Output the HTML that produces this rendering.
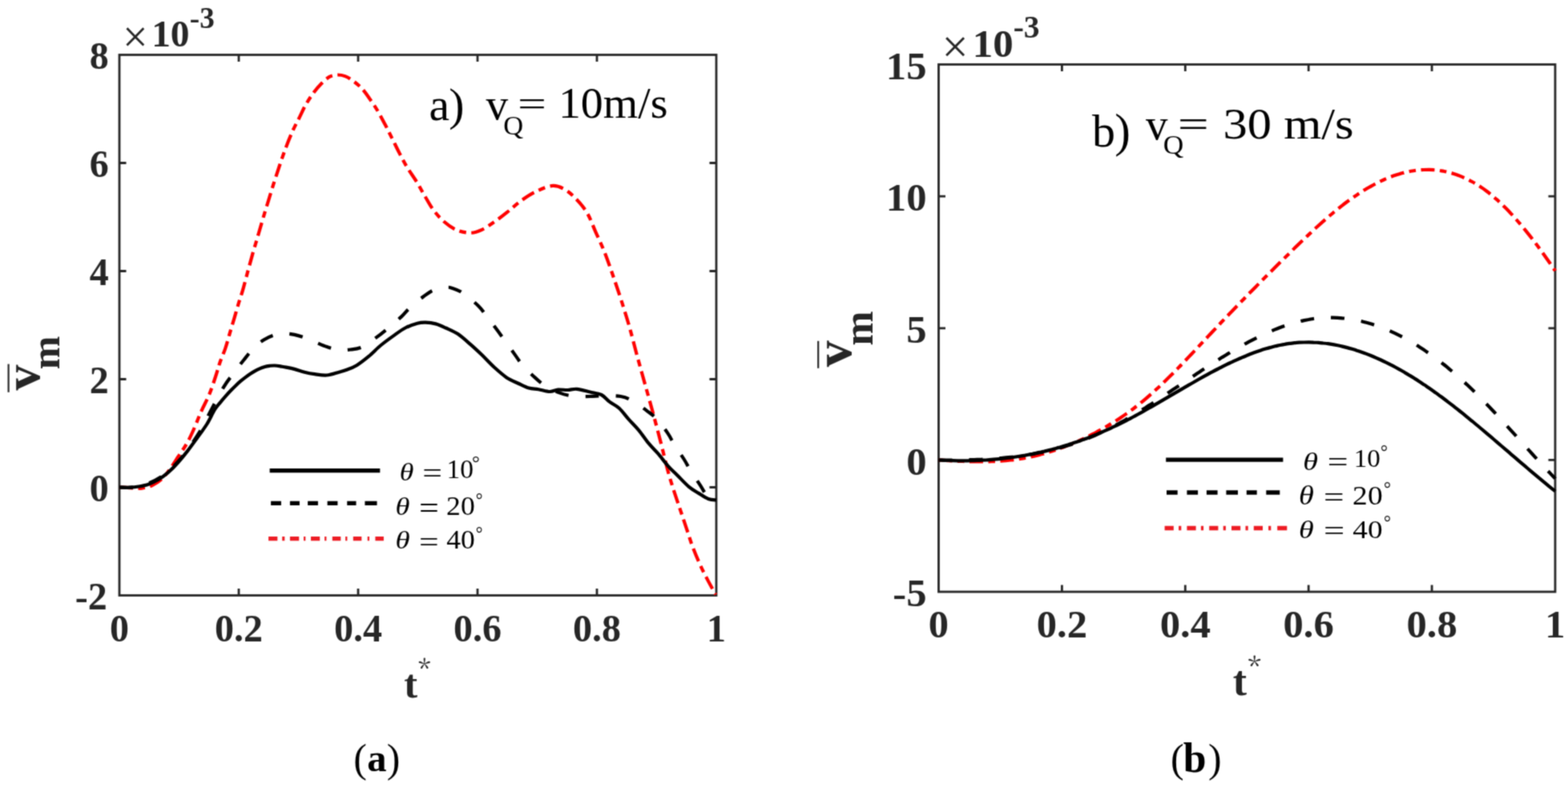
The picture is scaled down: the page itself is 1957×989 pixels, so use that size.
<!DOCTYPE html>
<html><head><meta charset="utf-8"><title>Figure</title>
<style>html,body{margin:0;padding:0;background:#fff;width:1957px;height:989px;overflow:hidden}svg{display:block}</style>
</head><body>
<svg width="1957" height="989" viewBox="0 0 1957 989">
<defs><filter id="soft" x="0" y="0" width="1957" height="989" filterUnits="userSpaceOnUse" color-interpolation-filters="sRGB"><feConvolveMatrix order="3" kernelMatrix="0.0400 0.1200 0.0400 0.1200 0.3600 0.1200 0.0400 0.1200 0.0400" edgeMode="duplicate"/></filter></defs>
<g filter="url(#soft)">
<rect width="1957" height="989" fill="#fff"/>
<rect x="149.0" y="68.5" width="745.0" height="675.0" fill="none" stroke="#262626" stroke-width="2.8"/>
<path d="M298.0,743.5V735.0M298.0,68.5V77.0M447.0,743.5V735.0M447.0,68.5V77.0M596.0,743.5V735.0M596.0,68.5V77.0M745.0,743.5V735.0M745.0,68.5V77.0M149.0,608.5H157.5M894.0,608.5H885.5M149.0,473.5H157.5M894.0,473.5H885.5M149.0,338.5H157.5M894.0,338.5H885.5M149.0,203.5H157.5M894.0,203.5H885.5" stroke="#262626" stroke-width="2.8" fill="none"/>
<path d="M149.0,608.5 C151.7,608.6 160.3,609.1 165.0,609.3 C169.7,609.5 173.1,610.1 177.3,609.6 C181.5,609.1 185.9,607.9 190.0,606.0 C194.1,604.1 197.9,601.8 201.6,598.5 C205.3,595.2 208.5,590.8 212.0,586.0 C215.5,581.2 219.2,575.2 222.6,570.0 C226.0,564.8 229.5,560.1 232.6,554.8 C235.7,549.5 237.9,544.8 241.0,538.0 C244.1,531.2 247.6,521.8 251.0,514.1 C254.4,506.4 258.4,499.4 261.5,491.8 C264.6,484.2 267.4,475.1 269.6,468.5 C271.8,461.9 272.8,457.6 274.7,452.0 C276.6,446.4 279.3,440.8 281.3,434.8 C283.3,428.8 285.0,422.4 286.8,416.1 C288.6,409.9 290.6,403.3 292.4,397.3 C294.2,391.3 295.6,385.9 297.4,380.1 C299.1,374.3 301.0,369.2 302.9,362.6 C304.8,356.0 306.9,347.8 308.9,340.4 C310.9,333.0 313.0,325.3 315.0,318.1 C317.0,310.9 319.1,304.3 321.1,297.4 C323.1,290.5 325.1,283.5 327.1,276.7 C329.1,269.9 330.8,264.2 333.2,256.5 C335.6,248.8 338.6,238.8 341.3,230.2 C344.0,221.6 346.8,213.1 349.5,205.0 C352.2,196.9 355.1,188.8 357.8,181.7 C360.5,174.6 363.2,168.1 365.9,162.2 C368.6,156.3 371.3,151.5 374.0,146.1 C376.7,140.7 379.1,135.0 382.1,129.9 C385.1,124.8 388.6,119.6 391.8,115.3 C395.0,111.0 398.3,107.2 401.5,104.0 C404.7,100.8 408.0,97.7 411.2,95.9 C414.4,94.2 417.7,93.6 420.9,93.5 C424.1,93.4 427.4,93.9 430.6,95.1 C433.8,96.3 436.8,98.1 440.3,100.7 C443.8,103.3 448.2,106.7 451.7,110.5 C455.2,114.3 458.2,118.8 461.4,123.4 C464.6,128.0 467.9,132.6 471.1,138.0 C474.3,143.4 477.8,150.2 480.8,155.8 C483.8,161.5 485.9,166.0 488.9,171.9 C491.9,177.8 495.4,185.2 498.6,191.4 C501.8,197.6 504.7,203.3 508.3,209.2 C511.9,215.1 516.3,221.0 520.0,227.0 C523.7,233.0 527.0,239.3 530.5,245.2 C534.0,251.1 537.0,257.0 541.0,262.3 C545.0,267.6 549.4,272.6 554.2,276.8 C559.0,281.0 564.5,285.0 570.0,287.3 C575.5,289.6 582.2,290.9 587.5,290.8 C592.8,290.7 596.5,289.1 601.5,286.8 C606.5,284.5 612.0,280.5 617.3,276.8 C622.6,273.1 627.9,269.1 633.1,264.9 C638.4,260.7 643.1,256.0 648.8,251.8 C654.5,247.7 660.7,243.3 667.3,240.0 C673.9,236.7 682.2,232.8 688.3,232.1 C694.4,231.4 698.9,233.2 704.1,236.0 C709.4,238.8 715.0,244.1 719.8,249.2 C724.6,254.2 729.0,259.5 733.0,266.3 C737.0,273.1 740.0,282.0 743.5,289.9 C747.0,297.8 750.5,304.8 754.0,313.6 C757.5,322.4 761.0,332.4 764.5,342.5 C768.0,352.6 771.6,363.2 775.1,374.1 C778.6,385.1 782.1,395.9 785.6,408.2 C789.1,420.5 792.8,435.7 796.1,447.7 C799.4,459.7 802.0,468.9 805.2,480.4 C808.4,491.9 811.9,504.2 815.3,516.8 C818.7,529.4 822.5,544.0 825.6,556.0 C828.7,568.0 831.2,579.2 833.8,588.8 C836.4,598.4 838.8,605.8 841.4,613.8 C844.0,621.8 846.5,629.1 849.1,636.8 C851.7,644.5 854.2,652.1 856.8,659.8 C859.4,667.5 861.6,675.2 864.5,682.9 C867.4,690.6 870.9,698.9 874.1,705.9 C877.3,712.9 880.5,719.0 883.7,725.1 C886.9,731.2 891.7,739.5 893.3,742.4" fill="none" stroke="#ff0000" stroke-width="4.2" stroke-dasharray="17 6.5 8.5 6.5" stroke-linejoin="round"/>
<path d="M149.0,608.5 C151.7,608.5 159.2,609.5 165.3,608.7 C171.4,607.9 179.2,606.0 185.5,603.5 C191.8,601.0 198.1,597.4 203.2,594.0 C208.3,590.6 211.8,587.2 216.0,583.0 C220.2,578.8 224.3,574.2 228.5,569.0 C232.7,563.8 236.9,558.0 241.0,552.0 C245.1,546.0 249.5,539.2 253.0,533.0 C256.5,526.8 257.7,523.2 262.0,515.0 C266.3,506.8 274.1,491.8 279.0,483.6 C283.9,475.4 287.4,471.6 291.6,465.9 C295.8,460.2 300.1,454.8 304.3,449.5 C308.5,444.2 312.7,438.5 316.9,434.3 C321.1,430.1 325.3,426.9 329.5,424.2 C333.7,421.5 338.0,419.7 342.2,418.4 C346.4,417.1 350.6,416.7 354.8,416.6 C359.0,416.5 363.2,417.0 367.4,417.9 C371.6,418.8 375.9,420.2 380.1,421.7 C384.3,423.2 388.1,424.9 392.7,426.8 C397.3,428.7 402.8,431.4 407.9,433.1 C412.9,434.8 418.1,436.3 423.0,436.9 C427.9,437.5 432.7,437.1 437.6,436.5 C442.6,435.9 447.2,435.6 452.7,433.0 C458.2,430.4 465.3,424.6 470.4,420.9 C475.5,417.2 478.0,415.0 483.1,410.8 C488.2,406.6 496.2,399.9 500.8,395.6 C505.4,391.3 506.3,389.2 510.9,385.0 C515.5,380.8 523.5,374.1 528.6,370.3 C533.7,366.5 536.6,364.1 541.2,362.2 C545.8,360.3 552.6,359.4 556.4,359.0 C560.2,358.6 560.6,358.6 564.0,359.7 C567.4,360.8 571.1,361.6 576.6,365.3 C582.1,369.0 591.8,376.9 596.8,381.7 C601.8,386.5 603.1,389.4 606.9,394.3 C610.7,399.2 615.7,405.7 619.5,410.8 C623.3,415.9 625.8,419.4 629.6,424.7 C633.4,430.0 638.5,437.1 642.3,442.4 C646.1,447.6 648.2,451.4 652.4,456.2 C656.6,461.0 663.0,467.2 667.6,471.4 C672.2,475.6 675.2,478.3 680.2,481.5 C685.2,484.7 692.0,488.2 697.9,490.4 C703.8,492.6 709.2,493.9 715.6,494.7 C722.0,495.5 730.2,495.1 736.4,495.0 C742.6,494.9 746.2,494.2 752.6,494.2 C759.0,494.2 768.7,494.0 774.8,495.0 C780.9,496.0 783.6,497.3 789.0,500.3 C794.4,503.3 802.2,509.0 807.2,512.8 C812.2,516.6 814.9,518.2 819.3,522.9 C823.7,527.6 829.8,535.7 833.5,541.1 C837.2,546.5 838.2,549.9 841.6,555.3 C845.0,560.7 850.3,568.1 853.7,573.5 C857.1,578.9 858.4,582.2 861.8,587.6 C865.2,593.0 870.4,600.4 873.9,605.8 C877.4,611.2 879.6,616.3 883.0,620.0 C886.4,623.7 892.2,626.7 894.0,628.0" fill="none" stroke="#000" stroke-width="4.2" stroke-dasharray="17 21" stroke-linejoin="round"/>
<path d="M149.0,608.5 C151.0,608.5 157.1,608.9 161.2,608.7 C165.2,608.5 169.3,608.2 173.3,607.5 C177.3,606.8 181.4,606.1 185.4,604.7 C189.4,603.3 193.4,601.4 197.5,599.0 C201.6,596.6 205.6,593.6 209.7,590.1 C213.8,586.6 217.8,582.5 221.8,578.0 C225.8,573.5 229.9,568.6 233.9,563.4 C237.9,558.2 241.9,552.6 246.0,547.0 C250.1,541.4 254.6,535.4 258.3,529.5 C262.0,523.6 265.2,516.0 268.0,511.5 C270.8,507.0 272.5,505.5 274.9,502.6 C277.2,499.7 279.9,496.6 282.1,494.1 C284.3,491.6 286.2,489.6 288.2,487.5 C290.2,485.4 292.3,483.3 294.3,481.4 C296.3,479.5 298.3,477.6 300.3,475.9 C302.3,474.2 304.4,472.6 306.4,471.1 C308.4,469.6 310.5,468.1 312.5,466.8 C314.5,465.5 316.5,464.3 318.5,463.2 C320.5,462.1 322.6,461.1 324.6,460.2 C326.6,459.3 328.6,458.6 330.6,458.0 C332.6,457.4 334.7,457.1 336.7,456.8 C338.7,456.6 340.6,456.4 342.8,456.5 C345.0,456.6 347.6,457.0 350.0,457.4 C352.4,457.8 354.1,458.0 357.0,458.6 C359.9,459.2 363.5,459.9 367.4,460.9 C371.2,461.9 375.9,463.6 380.1,464.7 C384.3,465.8 388.1,466.6 392.7,467.2 C397.3,467.8 402.8,468.9 407.9,468.5 C412.9,468.1 419.0,465.8 423.0,464.7 C427.0,463.6 428.3,463.4 432.0,462.0 C435.7,460.6 440.5,459.1 445.2,456.2 C449.9,453.3 455.2,449.1 460.3,444.9 C465.4,440.7 470.4,435.2 475.5,431.0 C480.6,426.8 485.6,423.2 490.7,419.6 C495.8,416.0 500.8,412.1 505.8,409.5 C510.9,406.9 516.8,404.8 521.0,403.7 C525.2,402.6 527.3,402.6 531.1,402.7 C534.9,402.8 539.5,403.3 543.7,404.4 C547.9,405.5 551.8,407.4 556.4,409.5 C561.0,411.6 566.5,413.7 571.5,417.1 C576.5,420.5 581.7,425.3 586.7,429.7 C591.8,434.1 596.8,438.8 601.8,443.6 C606.8,448.5 611.9,454.2 617.0,458.8 C622.1,463.4 627.2,468.0 632.2,471.4 C637.2,474.8 642.7,476.8 647.3,479.0 C651.9,481.2 655.9,483.4 660.0,484.6 C664.1,485.8 667.7,485.5 672.1,486.2 C676.5,486.9 682.2,488.9 686.3,489.0 C690.3,489.1 692.7,486.9 696.4,486.6 C700.1,486.3 704.6,487.1 708.5,487.0 C712.4,486.9 715.4,485.4 720.0,485.8 C724.6,486.2 731.3,488.3 736.4,489.5 C741.5,490.7 746.5,491.0 750.6,493.0 C754.7,495.0 757.0,498.9 760.7,501.7 C764.4,504.5 768.8,506.1 772.8,509.8 C776.8,513.5 780.8,519.4 784.9,523.9 C789.0,528.4 793.0,532.2 797.1,537.1 C801.2,542.0 805.2,548.3 809.2,553.2 C813.2,558.1 817.2,561.7 821.3,566.4 C825.3,571.1 829.5,577.0 833.5,581.6 C837.5,586.2 841.2,589.3 845.6,593.7 C850.0,598.1 855.4,604.1 859.8,607.8 C864.2,611.5 867.9,613.4 871.9,615.9 C875.9,618.4 880.3,621.6 884.0,623.0 C887.7,624.4 892.4,624.2 894.1,624.4" fill="none" stroke="#000" stroke-width="4.2" stroke-linejoin="round"/>
<text x="133.80" y="761.40" text-anchor="end" style="font-family:'Liberation Serif',serif;font-size:48.00px;font-weight:bold" fill="#262626">-2</text>
<text x="135.80" y="626.40" text-anchor="end" style="font-family:'Liberation Serif',serif;font-size:48.00px;font-weight:bold" fill="#262626">0</text>
<text x="135.80" y="491.40" text-anchor="end" style="font-family:'Liberation Serif',serif;font-size:48.00px;font-weight:bold" fill="#262626">2</text>
<text x="135.80" y="356.40" text-anchor="end" style="font-family:'Liberation Serif',serif;font-size:48.00px;font-weight:bold" fill="#262626">4</text>
<text x="135.80" y="221.40" text-anchor="end" style="font-family:'Liberation Serif',serif;font-size:48.00px;font-weight:bold" fill="#262626">6</text>
<text x="135.80" y="86.40" text-anchor="end" style="font-family:'Liberation Serif',serif;font-size:48.00px;font-weight:bold" fill="#262626">8</text>
<text x="149.00" y="800.80" text-anchor="middle" style="font-family:'Liberation Serif',serif;font-size:48.00px;font-weight:bold" fill="#262626">0</text>
<text x="298.00" y="800.80" text-anchor="middle" style="font-family:'Liberation Serif',serif;font-size:48.00px;font-weight:bold" fill="#262626">0.2</text>
<text x="447.00" y="800.80" text-anchor="middle" style="font-family:'Liberation Serif',serif;font-size:48.00px;font-weight:bold" fill="#262626">0.4</text>
<text x="596.00" y="800.80" text-anchor="middle" style="font-family:'Liberation Serif',serif;font-size:48.00px;font-weight:bold" fill="#262626">0.6</text>
<text x="745.00" y="800.80" text-anchor="middle" style="font-family:'Liberation Serif',serif;font-size:48.00px;font-weight:bold" fill="#262626">0.8</text>
<text x="894.00" y="800.80" text-anchor="middle" style="font-family:'Liberation Serif',serif;font-size:48.00px;font-weight:bold" fill="#262626">1</text>
<text x="152.95" y="65.45" style="font-family:'Liberation Serif',serif;font-size:56.05px;font-weight:normal;font-style:normal" fill="#262626">&#215;</text>
<text x="189.16" y="58.46" style="font-family:'Liberation Serif',serif;font-size:47.41px;font-weight:bold;font-style:normal" fill="#262626">10</text>
<text x="236.87" y="34.55" style="font-family:'Liberation Serif',serif;font-size:37.17px;font-weight:bold;font-style:normal" fill="#262626">-3</text>
<text x="504.28" y="871.02" style="font-family:'Liberation Serif',serif;font-size:50.43px;font-weight:bold;font-style:normal" fill="#262626">t</text>
<text x="521.93" y="848.26" style="font-family:'Noto Serif CJK SC',serif;font-size:32.38px;font-weight:normal;font-style:normal" fill="#262626">*</text>
<path d="M10.6,454.6V489.8" stroke="#262626" stroke-width="2.2"/>
<text x="0.0" y="0.0" style="font-family:'Liberation Serif','Times New Roman',serif;font-size:64.0px;font-weight:bold;font-style:normal" text-anchor="start" fill="#262626" transform="translate(49,487.5) rotate(-90)">v</text>
<text x="0.0" y="0.0" style="font-family:'Liberation Serif','Times New Roman',serif;font-size:50.0px;font-weight:bold;font-style:normal" text-anchor="start" fill="#262626" transform="translate(74.4,461.3) rotate(-90)">m</text>
<text x="535.50" y="150.10" style="font-family:'Liberation Serif',serif;font-size:57.50px;font-weight:normal;font-style:normal" fill="#000">a</text>
<text x="560.35" y="149.95" style="font-family:'Liberation Serif',serif;font-size:57.85px;font-weight:normal;font-style:normal" fill="#000">)</text>
<text x="606.57" y="148.79" style="font-family:'Liberation Serif',serif;font-size:55.32px;font-weight:normal;font-style:normal" fill="#000">v</text>
<text x="628.22" y="168.10" style="font-family:'Liberation Serif',serif;font-size:34.42px;font-weight:normal;font-style:normal" fill="#000">Q</text>
<text transform="translate(645.96,143.65) scale(1.462,1)" style="font-family:'Liberation Serif',serif;font-size:43.60px;font-weight:normal;font-style:normal" fill="#000">=</text>
<text x="696.90" y="146.95" style="font-family:'Liberation Serif',serif;font-size:55.85px;font-weight:normal;font-style:normal" fill="#000">10m/s</text>
<path d="M336.6,587.6H474.3" stroke="#000" stroke-width="5.3"/>
<path d="M338.1,628.3H350.9M361.9,628.3H373.9M384.1,628.3H396.9M408.6,628.3H421.4M433.2,628.3H444.5M455.4,628.3H470.5" stroke="#000" stroke-width="5.3" fill="none"/>
<path d="M335.1,672.7H346.3M352.2,672.7H355.3M361.9,672.7H373.2M379.0,672.7H381.3M388.0,672.7H399.2M405.1,672.7H407.4M414.8,672.7H425.3M431.1,672.7H433.4M440.8,672.7H451.3M458.7,672.7H461.0M468.4,672.7H478.9" stroke="#ed1c24" stroke-width="5.3" fill="none"/>
<text transform="translate(498.70,599.99) scale(1.146,1)" style="font-family:'Liberation Serif',serif;font-size:31.27px;font-weight:normal;font-style:italic" fill="#000">&#952;</text>
<text transform="translate(527.36,602.55) scale(1.242,1)" style="font-family:'Liberation Serif',serif;font-size:35.20px;font-weight:normal;font-style:normal" fill="#000">=</text>
<text transform="translate(557.43,596.98) scale(1.018,1)" style="font-family:'Liberation Serif',serif;font-size:32.89px;font-weight:normal;font-style:normal" fill="#000">10</text>
<text transform="translate(588.97,586.00) scale(1.029,1)" style="font-family:'Liberation Serif',serif;font-size:23.80px;font-weight:normal;font-style:normal" fill="#000">&#176;</text>
<text transform="translate(493.56,643.42) scale(1.120,1)" style="font-family:'Liberation Serif',serif;font-size:32.54px;font-weight:normal;font-style:italic" fill="#000">&#952;</text>
<text transform="translate(522.97,646.85) scale(1.171,1)" style="font-family:'Liberation Serif',serif;font-size:37.60px;font-weight:normal;font-style:normal" fill="#000">=</text>
<text transform="translate(557.08,642.96) scale(1.060,1)" style="font-family:'Liberation Serif',serif;font-size:33.63px;font-weight:normal;font-style:normal" fill="#000">20</text>
<text transform="translate(593.80,631.60) scale(0.914,1)" style="font-family:'Liberation Serif',serif;font-size:23.80px;font-weight:normal;font-style:normal" fill="#000">&#176;</text>
<text transform="translate(493.49,685.46) scale(1.141,1)" style="font-family:'Liberation Serif',serif;font-size:32.25px;font-weight:normal;font-style:italic" fill="#000">&#952;</text>
<text transform="translate(522.88,688.85) scale(1.188,1)" style="font-family:'Liberation Serif',serif;font-size:36.80px;font-weight:normal;font-style:normal" fill="#000">=</text>
<text transform="translate(557.18,685.26) scale(1.057,1)" style="font-family:'Liberation Serif',serif;font-size:33.63px;font-weight:normal;font-style:normal" fill="#000">40</text>
<text transform="translate(593.80,673.90) scale(0.914,1)" style="font-family:'Liberation Serif',serif;font-size:23.80px;font-weight:normal;font-style:normal" fill="#000">&#176;</text>
<text x="441.37" y="963.93" style="font-family:'Liberation Serif',serif;font-size:49.92px;font-weight:normal;font-style:normal" fill="#000">(</text>
<text x="458.14" y="963.38" style="font-family:'Liberation Serif',serif;font-size:48.54px;font-weight:bold;font-style:normal" fill="#000">a</text>
<text x="482.82" y="964.18" style="font-family:'Liberation Serif',serif;font-size:49.92px;font-weight:normal;font-style:normal" fill="#000">)</text>
<rect x="1171.5" y="80.5" width="769.5" height="658.5" fill="none" stroke="#262626" stroke-width="2.8"/>
<path d="M1325.4,739.0V730.5M1325.4,80.5V89.0M1479.3,739.0V730.5M1479.3,80.5V89.0M1633.2,739.0V730.5M1633.2,80.5V89.0M1787.1,739.0V730.5M1787.1,80.5V89.0M1171.5,574.4H1180.0M1941.0,574.4H1932.5M1171.5,409.8H1180.0M1941.0,409.8H1932.5M1171.5,245.1H1180.0M1941.0,245.1H1932.5" stroke="#262626" stroke-width="2.8" fill="none"/>
<path d="M1171.5,574.5 C1172.5,574.5 1175.5,574.7 1177.5,574.8 C1179.5,574.9 1181.5,575.1 1183.5,575.2 C1185.5,575.3 1187.5,575.4 1189.5,575.5 C1191.5,575.6 1193.5,575.7 1195.5,575.8 C1197.5,575.8 1199.5,575.9 1201.5,576.0 C1203.5,576.1 1205.5,576.1 1207.5,576.2 C1209.5,576.3 1211.5,576.3 1213.5,576.3 C1215.5,576.4 1217.5,576.4 1219.5,576.4 C1221.5,576.4 1223.5,576.4 1225.5,576.4 C1227.5,576.4 1229.5,576.4 1231.5,576.4 C1233.5,576.3 1235.5,576.3 1237.5,576.2 C1239.5,576.1 1241.5,576.1 1243.5,576.0 C1245.5,575.9 1247.5,575.7 1249.5,575.6 C1251.5,575.5 1253.5,575.3 1255.5,575.1 C1257.5,574.9 1259.5,574.7 1261.5,574.5 C1263.5,574.3 1265.5,574.1 1267.5,573.8 C1269.5,573.5 1271.5,573.2 1273.5,572.9 C1275.5,572.6 1277.5,572.3 1279.5,571.9 C1281.5,571.5 1283.5,571.1 1285.5,570.7 C1287.5,570.3 1289.5,569.9 1291.5,569.4 C1293.5,568.9 1295.5,568.4 1297.5,567.9 C1299.5,567.4 1301.5,566.8 1303.5,566.3 C1305.5,565.7 1307.5,565.1 1309.5,564.5 C1311.5,563.9 1313.5,563.2 1315.5,562.6 C1317.5,561.9 1319.5,561.2 1321.5,560.5 C1323.5,559.8 1325.5,559.0 1327.5,558.3 C1329.5,557.5 1331.5,556.7 1333.5,555.9 C1335.5,555.1 1337.5,554.3 1339.5,553.4 C1341.5,552.6 1343.5,551.7 1345.5,550.8 C1347.5,549.9 1349.5,549.0 1351.5,548.1 C1353.5,547.1 1355.5,546.2 1357.5,545.2 C1359.5,544.2 1361.5,543.2 1363.5,542.2 C1365.5,541.2 1367.5,540.1 1369.5,539.0 C1371.5,538.0 1373.5,536.9 1375.5,535.8 C1377.5,534.6 1379.5,533.5 1381.5,532.3 C1383.5,531.2 1385.5,530.0 1387.5,528.7 C1389.5,527.5 1391.5,526.3 1393.5,525.0 C1395.5,523.7 1397.5,522.4 1399.5,521.0 C1401.5,519.7 1403.5,518.3 1405.5,516.9 C1407.5,515.5 1409.5,514.1 1411.5,512.6 C1413.5,511.1 1415.5,509.6 1417.5,508.0 C1419.5,506.5 1421.5,504.9 1423.5,503.3 C1425.5,501.7 1427.5,500.0 1429.5,498.3 C1431.5,496.6 1433.5,494.9 1435.5,493.1 C1437.5,491.4 1439.5,489.6 1441.5,487.7 C1443.5,485.9 1445.5,484.0 1447.5,482.2 C1449.5,480.3 1451.5,478.4 1453.5,476.4 C1455.5,474.5 1457.5,472.5 1459.5,470.6 C1461.5,468.6 1463.5,466.6 1465.5,464.6 C1467.5,462.5 1469.5,460.5 1471.5,458.4 C1473.5,456.4 1475.5,454.3 1477.5,452.2 C1479.5,450.1 1481.5,448.0 1483.5,445.9 C1485.5,443.8 1487.5,441.7 1489.5,439.6 C1491.5,437.5 1493.5,435.4 1495.5,433.2 C1497.5,431.1 1499.5,429.0 1501.5,426.8 C1503.5,424.7 1505.5,422.6 1507.5,420.4 C1509.5,418.3 1511.5,416.2 1513.5,414.0 C1515.5,411.9 1517.5,409.8 1519.5,407.7 C1521.5,405.6 1523.5,403.4 1525.5,401.3 C1527.5,399.2 1529.5,397.1 1531.5,395.0 C1533.5,392.9 1535.5,390.8 1537.5,388.8 C1539.5,386.7 1541.5,384.6 1543.5,382.5 C1545.5,380.4 1547.5,378.4 1549.5,376.3 C1551.5,374.3 1553.5,372.2 1555.5,370.1 C1557.5,368.1 1559.5,366.0 1561.5,364.0 C1563.5,362.0 1565.5,359.9 1567.5,357.9 C1569.5,355.9 1571.5,353.8 1573.5,351.8 C1575.5,349.8 1577.5,347.8 1579.5,345.8 C1581.5,343.8 1583.5,341.8 1585.5,339.8 C1587.5,337.8 1589.5,335.8 1591.5,333.8 C1593.5,331.8 1595.5,329.8 1597.5,327.8 C1599.5,325.9 1601.5,323.9 1603.5,321.9 C1605.5,319.9 1607.5,318.0 1609.5,316.0 C1611.5,314.1 1613.5,312.1 1615.5,310.1 C1617.5,308.2 1619.5,306.3 1621.5,304.3 C1623.5,302.4 1625.5,300.5 1627.5,298.6 C1629.5,296.6 1631.5,294.7 1633.5,292.9 C1635.5,291.0 1637.5,289.1 1639.5,287.3 C1641.5,285.4 1643.5,283.6 1645.5,281.8 C1647.5,280.0 1649.5,278.2 1651.5,276.4 C1653.5,274.6 1655.5,272.9 1657.5,271.2 C1659.5,269.4 1661.5,267.7 1663.5,266.1 C1665.5,264.4 1667.5,262.8 1669.5,261.1 C1671.5,259.5 1673.5,257.9 1675.5,256.4 C1677.5,254.8 1679.5,253.3 1681.5,251.8 C1683.5,250.4 1685.5,248.9 1687.5,247.5 C1689.5,246.1 1691.5,244.7 1693.5,243.4 C1695.5,242.0 1697.5,240.7 1699.5,239.4 C1701.5,238.2 1703.5,236.9 1705.5,235.7 C1707.5,234.6 1709.5,233.4 1711.5,232.3 C1713.5,231.2 1715.5,230.1 1717.5,229.1 C1719.5,228.1 1721.5,227.1 1723.5,226.1 C1725.5,225.2 1727.5,224.3 1729.5,223.4 C1731.5,222.6 1733.5,221.8 1735.5,221.0 C1737.5,220.2 1739.5,219.5 1741.5,218.8 C1743.5,218.1 1745.5,217.5 1747.5,216.9 C1749.5,216.4 1751.5,215.8 1753.5,215.3 C1755.5,214.9 1757.5,214.4 1759.5,214.0 C1761.5,213.7 1763.5,213.3 1765.5,213.0 C1767.5,212.8 1769.5,212.5 1771.5,212.3 C1773.5,212.2 1775.5,212.0 1777.5,212.0 C1779.5,211.9 1781.5,211.9 1783.5,211.9 C1785.5,211.9 1787.5,212.0 1789.5,212.2 C1791.5,212.3 1793.5,212.5 1795.5,212.8 C1797.5,213.0 1799.5,213.4 1801.5,213.7 C1803.5,214.1 1805.5,214.5 1807.5,215.0 C1809.5,215.5 1811.5,216.1 1813.5,216.7 C1815.5,217.3 1817.5,218.0 1819.5,218.7 C1821.5,219.4 1823.5,220.2 1825.5,221.1 C1827.5,221.9 1829.5,222.9 1831.5,223.8 C1833.5,224.8 1835.5,225.9 1837.5,227.0 C1839.5,228.1 1841.5,229.3 1843.5,230.5 C1845.5,231.8 1847.5,233.1 1849.5,234.4 C1851.5,235.8 1853.5,237.3 1855.5,238.8 C1857.5,240.3 1859.5,241.9 1861.5,243.5 C1863.5,245.2 1865.5,246.9 1867.5,248.7 C1869.5,250.4 1871.5,252.3 1873.5,254.2 C1875.5,256.1 1877.5,258.1 1879.5,260.1 C1881.5,262.1 1883.5,264.2 1885.5,266.4 C1887.5,268.5 1889.5,270.7 1891.5,273.0 C1893.5,275.2 1895.5,277.5 1897.5,279.9 C1899.5,282.2 1901.5,284.7 1903.5,287.1 C1905.5,289.6 1907.5,292.1 1909.5,294.6 C1911.5,297.2 1913.5,299.8 1915.5,302.4 C1917.5,305.1 1919.5,307.7 1921.5,310.5 C1923.5,313.2 1925.5,315.9 1927.5,318.7 C1929.5,321.5 1931.5,324.4 1933.5,327.2 C1935.5,330.1 1938.2,334.1 1939.5,336.0 C1940.8,337.8 1940.8,337.8 1941.0,338.2" fill="none" stroke="#ff0000" stroke-width="4.2" stroke-dasharray="17 6.5 8.5 6.5" stroke-linejoin="round"/>
<path d="M1171.5,574.5 C1172.5,574.5 1175.5,574.5 1177.5,574.5 C1179.5,574.5 1181.5,574.5 1183.5,574.5 C1185.5,574.5 1187.5,574.5 1189.5,574.5 C1191.5,574.5 1193.5,574.4 1195.5,574.4 C1197.5,574.4 1199.5,574.4 1201.5,574.3 C1203.5,574.3 1205.5,574.2 1207.5,574.2 C1209.5,574.1 1211.5,574.1 1213.5,574.0 C1215.5,574.0 1217.5,573.9 1219.5,573.8 C1221.5,573.7 1223.5,573.6 1225.5,573.6 C1227.5,573.5 1229.5,573.4 1231.5,573.2 C1233.5,573.1 1235.5,573.0 1237.5,572.9 C1239.5,572.8 1241.5,572.6 1243.5,572.5 C1245.5,572.3 1247.5,572.1 1249.5,572.0 C1251.5,571.8 1253.5,571.6 1255.5,571.4 C1257.5,571.2 1259.5,571.0 1261.5,570.8 C1263.5,570.6 1265.5,570.3 1267.5,570.1 C1269.5,569.8 1271.5,569.6 1273.5,569.3 C1275.5,569.0 1277.5,568.7 1279.5,568.4 C1281.5,568.1 1283.5,567.8 1285.5,567.5 C1287.5,567.2 1289.5,566.8 1291.5,566.4 C1293.5,566.1 1295.5,565.7 1297.5,565.3 C1299.5,564.9 1301.5,564.5 1303.5,564.0 C1305.5,563.6 1307.5,563.2 1309.5,562.7 C1311.5,562.2 1313.5,561.7 1315.5,561.2 C1317.5,560.7 1319.5,560.2 1321.5,559.7 C1323.5,559.1 1325.5,558.5 1327.5,558.0 C1329.5,557.4 1331.5,556.8 1333.5,556.1 C1335.5,555.5 1337.5,554.9 1339.5,554.2 C1341.5,553.5 1343.5,552.8 1345.5,552.1 C1347.5,551.4 1349.5,550.7 1351.5,549.9 C1353.5,549.1 1355.5,548.4 1357.5,547.6 C1359.5,546.7 1361.5,545.9 1363.5,545.1 C1365.5,544.2 1367.5,543.3 1369.5,542.4 C1371.5,541.5 1373.5,540.6 1375.5,539.6 C1377.5,538.7 1379.5,537.7 1381.5,536.7 C1383.5,535.7 1385.5,534.7 1387.5,533.6 C1389.5,532.6 1391.5,531.5 1393.5,530.4 C1395.5,529.4 1397.5,528.3 1399.5,527.1 C1401.5,526.0 1403.5,524.9 1405.5,523.7 C1407.5,522.6 1409.5,521.4 1411.5,520.2 C1413.5,519.0 1415.5,517.8 1417.5,516.6 C1419.5,515.4 1421.5,514.2 1423.5,512.9 C1425.5,511.7 1427.5,510.4 1429.5,509.2 C1431.5,507.9 1433.5,506.6 1435.5,505.4 C1437.5,504.1 1439.5,502.8 1441.5,501.5 C1443.5,500.2 1445.5,498.9 1447.5,497.6 C1449.5,496.2 1451.5,494.9 1453.5,493.6 C1455.5,492.3 1457.5,490.9 1459.5,489.6 C1461.5,488.3 1463.5,486.9 1465.5,485.6 C1467.5,484.3 1469.5,482.9 1471.5,481.6 C1473.5,480.2 1475.5,478.9 1477.5,477.5 C1479.5,476.2 1481.5,474.8 1483.5,473.5 C1485.5,472.2 1487.5,470.8 1489.5,469.5 C1491.5,468.2 1493.5,466.8 1495.5,465.5 C1497.5,464.2 1499.5,462.8 1501.5,461.5 C1503.5,460.2 1505.5,458.9 1507.5,457.6 C1509.5,456.3 1511.5,455.0 1513.5,453.7 C1515.5,452.4 1517.5,451.2 1519.5,449.9 C1521.5,448.6 1523.5,447.4 1525.5,446.1 C1527.5,444.9 1529.5,443.7 1531.5,442.4 C1533.5,441.2 1535.5,440.0 1537.5,438.8 C1539.5,437.6 1541.5,436.5 1543.5,435.3 C1545.5,434.1 1547.5,433.0 1549.5,431.9 C1551.5,430.8 1553.5,429.6 1555.5,428.6 C1557.5,427.5 1559.5,426.4 1561.5,425.4 C1563.5,424.3 1565.5,423.3 1567.5,422.3 C1569.5,421.3 1571.5,420.3 1573.5,419.3 C1575.5,418.4 1577.5,417.4 1579.5,416.5 C1581.5,415.6 1583.5,414.7 1585.5,413.9 C1587.5,413.0 1589.5,412.2 1591.5,411.4 C1593.5,410.6 1595.5,409.8 1597.5,409.0 C1599.5,408.3 1601.5,407.5 1603.5,406.9 C1605.5,406.2 1607.5,405.5 1609.5,404.9 C1611.5,404.3 1613.5,403.7 1615.5,403.1 C1617.5,402.5 1619.5,402.0 1621.5,401.5 C1623.5,401.0 1625.5,400.5 1627.5,400.1 C1629.5,399.7 1631.5,399.3 1633.5,399.0 C1635.5,398.6 1637.5,398.3 1639.5,398.0 C1641.5,397.8 1643.5,397.5 1645.5,397.3 C1647.5,397.1 1649.5,397.0 1651.5,396.9 C1653.5,396.7 1655.5,396.7 1657.5,396.6 C1659.5,396.6 1661.5,396.6 1663.5,396.6 C1665.5,396.6 1667.5,396.7 1669.5,396.8 C1671.5,396.9 1673.5,397.1 1675.5,397.3 C1677.5,397.4 1679.5,397.7 1681.5,397.9 C1683.5,398.2 1685.5,398.5 1687.5,398.8 C1689.5,399.1 1691.5,399.5 1693.5,399.9 C1695.5,400.3 1697.5,400.8 1699.5,401.2 C1701.5,401.7 1703.5,402.2 1705.5,402.8 C1707.5,403.3 1709.5,403.9 1711.5,404.5 C1713.5,405.1 1715.5,405.8 1717.5,406.5 C1719.5,407.2 1721.5,407.9 1723.5,408.6 C1725.5,409.4 1727.5,410.2 1729.5,411.0 C1731.5,411.8 1733.5,412.7 1735.5,413.6 C1737.5,414.5 1739.5,415.4 1741.5,416.3 C1743.5,417.3 1745.5,418.3 1747.5,419.3 C1749.5,420.4 1751.5,421.4 1753.5,422.5 C1755.5,423.6 1757.5,424.7 1759.5,425.9 C1761.5,427.0 1763.5,428.2 1765.5,429.4 C1767.5,430.7 1769.5,431.9 1771.5,433.2 C1773.5,434.5 1775.5,435.8 1777.5,437.1 C1779.5,438.5 1781.5,439.9 1783.5,441.3 C1785.5,442.7 1787.5,444.1 1789.5,445.6 C1791.5,447.0 1793.5,448.5 1795.5,450.1 C1797.5,451.6 1799.5,453.2 1801.5,454.8 C1803.5,456.3 1805.5,458.0 1807.5,459.6 C1809.5,461.3 1811.5,462.9 1813.5,464.7 C1815.5,466.4 1817.5,468.1 1819.5,469.9 C1821.5,471.6 1823.5,473.4 1825.5,475.3 C1827.5,477.1 1829.5,478.9 1831.5,480.8 C1833.5,482.7 1835.5,484.6 1837.5,486.5 C1839.5,488.5 1841.5,490.4 1843.5,492.4 C1845.5,494.4 1847.5,496.4 1849.5,498.5 C1851.5,500.5 1853.5,502.6 1855.5,504.7 C1857.5,506.7 1859.5,508.8 1861.5,511.0 C1863.5,513.1 1865.5,515.2 1867.5,517.4 C1869.5,519.5 1871.5,521.7 1873.5,523.9 C1875.5,526.0 1877.5,528.2 1879.5,530.4 C1881.5,532.6 1883.5,534.8 1885.5,537.1 C1887.5,539.3 1889.5,541.5 1891.5,543.7 C1893.5,545.9 1895.5,548.1 1897.5,550.4 C1899.5,552.6 1901.5,554.8 1903.5,557.0 C1905.5,559.3 1907.5,561.5 1909.5,563.7 C1911.5,565.9 1913.5,568.1 1915.5,570.3 C1917.5,572.5 1919.5,574.7 1921.5,576.9 C1923.5,579.0 1925.5,581.2 1927.5,583.3 C1929.5,585.5 1931.5,587.6 1933.5,589.7 C1935.5,591.9 1938.2,594.7 1939.5,596.0 C1940.8,597.3 1940.8,597.3 1941.0,597.6" fill="none" stroke="#000" stroke-width="4.2" stroke-dasharray="17 21" stroke-linejoin="round"/>
<path d="M1171.5,574.5 C1172.5,574.5 1175.5,574.7 1177.5,574.8 C1179.5,574.9 1181.5,575.0 1183.5,575.0 C1185.5,575.1 1187.5,575.2 1189.5,575.2 C1191.5,575.3 1193.5,575.3 1195.5,575.3 C1197.5,575.4 1199.5,575.4 1201.5,575.4 C1203.5,575.4 1205.5,575.4 1207.5,575.3 C1209.5,575.3 1211.5,575.3 1213.5,575.2 C1215.5,575.2 1217.5,575.1 1219.5,575.0 C1221.5,574.9 1223.5,574.8 1225.5,574.7 C1227.5,574.6 1229.5,574.5 1231.5,574.4 C1233.5,574.2 1235.5,574.1 1237.5,573.9 C1239.5,573.8 1241.5,573.6 1243.5,573.4 C1245.5,573.2 1247.5,573.0 1249.5,572.8 C1251.5,572.6 1253.5,572.4 1255.5,572.1 C1257.5,571.9 1259.5,571.6 1261.5,571.4 C1263.5,571.1 1265.5,570.8 1267.5,570.5 C1269.5,570.2 1271.5,569.9 1273.5,569.6 C1275.5,569.3 1277.5,568.9 1279.5,568.6 C1281.5,568.2 1283.5,567.8 1285.5,567.4 C1287.5,567.1 1289.5,566.7 1291.5,566.2 C1293.5,565.8 1295.5,565.4 1297.5,564.9 C1299.5,564.5 1301.5,564.0 1303.5,563.6 C1305.5,563.1 1307.5,562.6 1309.5,562.1 C1311.5,561.6 1313.5,561.1 1315.5,560.5 C1317.5,560.0 1319.5,559.4 1321.5,558.9 C1323.5,558.3 1325.5,557.7 1327.5,557.1 C1329.5,556.5 1331.5,555.9 1333.5,555.3 C1335.5,554.6 1337.5,554.0 1339.5,553.3 C1341.5,552.6 1343.5,552.0 1345.5,551.3 C1347.5,550.6 1349.5,549.8 1351.5,549.1 C1353.5,548.4 1355.5,547.6 1357.5,546.9 C1359.5,546.1 1361.5,545.3 1363.5,544.5 C1365.5,543.7 1367.5,542.9 1369.5,542.1 C1371.5,541.3 1373.5,540.4 1375.5,539.5 C1377.5,538.7 1379.5,537.8 1381.5,536.9 C1383.5,536.0 1385.5,535.1 1387.5,534.1 C1389.5,533.2 1391.5,532.2 1393.5,531.3 C1395.5,530.3 1397.5,529.3 1399.5,528.3 C1401.5,527.3 1403.5,526.3 1405.5,525.3 C1407.5,524.2 1409.5,523.2 1411.5,522.1 C1413.5,521.0 1415.5,520.0 1417.5,518.9 C1419.5,517.8 1421.5,516.7 1423.5,515.6 C1425.5,514.5 1427.5,513.4 1429.5,512.2 C1431.5,511.1 1433.5,510.0 1435.5,508.8 C1437.5,507.7 1439.5,506.6 1441.5,505.4 C1443.5,504.2 1445.5,503.1 1447.5,501.9 C1449.5,500.8 1451.5,499.6 1453.5,498.4 C1455.5,497.3 1457.5,496.1 1459.5,494.9 C1461.5,493.7 1463.5,492.6 1465.5,491.4 C1467.5,490.2 1469.5,489.1 1471.5,487.9 C1473.5,486.7 1475.5,485.5 1477.5,484.4 C1479.5,483.2 1481.5,482.1 1483.5,480.9 C1485.5,479.7 1487.5,478.6 1489.5,477.5 C1491.5,476.3 1493.5,475.2 1495.5,474.0 C1497.5,472.9 1499.5,471.8 1501.5,470.7 C1503.5,469.6 1505.5,468.5 1507.5,467.4 C1509.5,466.3 1511.5,465.2 1513.5,464.2 C1515.5,463.1 1517.5,462.0 1519.5,461.0 C1521.5,460.0 1523.5,458.9 1525.5,457.9 C1527.5,456.9 1529.5,455.9 1531.5,454.9 C1533.5,454.0 1535.5,453.0 1537.5,452.1 C1539.5,451.1 1541.5,450.2 1543.5,449.3 C1545.5,448.4 1547.5,447.5 1549.5,446.7 C1551.5,445.8 1553.5,445.0 1555.5,444.2 C1557.5,443.3 1559.5,442.6 1561.5,441.8 C1563.5,441.0 1565.5,440.3 1567.5,439.6 C1569.5,438.9 1571.5,438.2 1573.5,437.5 C1575.5,436.8 1577.5,436.2 1579.5,435.6 C1581.5,435.0 1583.5,434.4 1585.5,433.9 C1587.5,433.3 1589.5,432.8 1591.5,432.3 C1593.5,431.9 1595.5,431.4 1597.5,431.0 C1599.5,430.6 1601.5,430.2 1603.5,429.9 C1605.5,429.5 1607.5,429.2 1609.5,428.9 C1611.5,428.7 1613.5,428.4 1615.5,428.2 C1617.5,428.0 1619.5,427.9 1621.5,427.7 C1623.5,427.6 1625.5,427.5 1627.5,427.5 C1629.5,427.4 1631.5,427.4 1633.5,427.4 C1635.5,427.4 1637.5,427.5 1639.5,427.6 C1641.5,427.6 1643.5,427.8 1645.5,427.9 C1647.5,428.1 1649.5,428.2 1651.5,428.5 C1653.5,428.7 1655.5,428.9 1657.5,429.2 C1659.5,429.5 1661.5,429.8 1663.5,430.1 C1665.5,430.5 1667.5,430.9 1669.5,431.3 C1671.5,431.7 1673.5,432.1 1675.5,432.6 C1677.5,433.1 1679.5,433.6 1681.5,434.1 C1683.5,434.6 1685.5,435.2 1687.5,435.8 C1689.5,436.4 1691.5,437.0 1693.5,437.7 C1695.5,438.3 1697.5,439.0 1699.5,439.7 C1701.5,440.4 1703.5,441.1 1705.5,441.9 C1707.5,442.7 1709.5,443.5 1711.5,444.3 C1713.5,445.1 1715.5,445.9 1717.5,446.8 C1719.5,447.7 1721.5,448.6 1723.5,449.5 C1725.5,450.4 1727.5,451.4 1729.5,452.4 C1731.5,453.3 1733.5,454.3 1735.5,455.4 C1737.5,456.4 1739.5,457.4 1741.5,458.5 C1743.5,459.6 1745.5,460.7 1747.5,461.8 C1749.5,463.0 1751.5,464.1 1753.5,465.3 C1755.5,466.4 1757.5,467.6 1759.5,468.9 C1761.5,470.1 1763.5,471.3 1765.5,472.6 C1767.5,473.8 1769.5,475.1 1771.5,476.4 C1773.5,477.7 1775.5,479.1 1777.5,480.4 C1779.5,481.8 1781.5,483.1 1783.5,484.5 C1785.5,485.9 1787.5,487.3 1789.5,488.7 C1791.5,490.2 1793.5,491.6 1795.5,493.1 C1797.5,494.6 1799.5,496.0 1801.5,497.5 C1803.5,499.0 1805.5,500.5 1807.5,502.1 C1809.5,503.6 1811.5,505.1 1813.5,506.7 C1815.5,508.3 1817.5,509.8 1819.5,511.4 C1821.5,513.0 1823.5,514.6 1825.5,516.2 C1827.5,517.8 1829.5,519.5 1831.5,521.1 C1833.5,522.7 1835.5,524.4 1837.5,526.0 C1839.5,527.7 1841.5,529.3 1843.5,531.0 C1845.5,532.7 1847.5,534.3 1849.5,536.0 C1851.5,537.7 1853.5,539.4 1855.5,541.1 C1857.5,542.8 1859.5,544.5 1861.5,546.2 C1863.5,547.9 1865.5,549.6 1867.5,551.3 C1869.5,553.0 1871.5,554.7 1873.5,556.5 C1875.5,558.2 1877.5,559.9 1879.5,561.6 C1881.5,563.3 1883.5,565.1 1885.5,566.8 C1887.5,568.5 1889.5,570.2 1891.5,571.9 C1893.5,573.7 1895.5,575.4 1897.5,577.1 C1899.5,578.8 1901.5,580.5 1903.5,582.2 C1905.5,583.9 1907.5,585.6 1909.5,587.3 C1911.5,589.0 1913.5,590.7 1915.5,592.4 C1917.5,594.1 1919.5,595.8 1921.5,597.4 C1923.5,599.1 1925.5,600.8 1927.5,602.4 C1929.5,604.1 1931.5,605.7 1933.5,607.4 C1935.5,609.0 1938.2,611.2 1939.5,612.2 C1940.8,613.3 1940.8,613.3 1941.0,613.5" fill="none" stroke="#000" stroke-width="4.2" stroke-linejoin="round"/>
<text transform="translate(1156.50,757.30) scale(1.060,1)" text-anchor="end" style="font-family:'Liberation Serif',serif;font-size:47.80px;font-weight:bold" fill="#262626">-5</text>
<text transform="translate(1156.50,592.67) scale(1.060,1)" text-anchor="end" style="font-family:'Liberation Serif',serif;font-size:47.80px;font-weight:bold" fill="#262626">0</text>
<text transform="translate(1156.50,428.05) scale(1.060,1)" text-anchor="end" style="font-family:'Liberation Serif',serif;font-size:47.80px;font-weight:bold" fill="#262626">5</text>
<text transform="translate(1156.50,263.43) scale(1.060,1)" text-anchor="end" style="font-family:'Liberation Serif',serif;font-size:47.80px;font-weight:bold" fill="#262626">10</text>
<text transform="translate(1156.50,98.80) scale(1.060,1)" text-anchor="end" style="font-family:'Liberation Serif',serif;font-size:47.80px;font-weight:bold" fill="#262626">15</text>
<text transform="translate(1171.50,796.20) scale(1.060,1)" text-anchor="middle" style="font-family:'Liberation Serif',serif;font-size:47.80px;font-weight:bold" fill="#262626">0</text>
<text transform="translate(1325.40,796.20) scale(1.060,1)" text-anchor="middle" style="font-family:'Liberation Serif',serif;font-size:47.80px;font-weight:bold" fill="#262626">0.2</text>
<text transform="translate(1479.30,796.20) scale(1.060,1)" text-anchor="middle" style="font-family:'Liberation Serif',serif;font-size:47.80px;font-weight:bold" fill="#262626">0.4</text>
<text transform="translate(1633.20,796.20) scale(1.060,1)" text-anchor="middle" style="font-family:'Liberation Serif',serif;font-size:47.80px;font-weight:bold" fill="#262626">0.6</text>
<text transform="translate(1787.10,796.20) scale(1.060,1)" text-anchor="middle" style="font-family:'Liberation Serif',serif;font-size:47.80px;font-weight:bold" fill="#262626">0.8</text>
<text transform="translate(1941.00,796.20) scale(1.060,1)" text-anchor="middle" style="font-family:'Liberation Serif',serif;font-size:47.80px;font-weight:bold" fill="#262626">1</text>
<text x="1175.47" y="78.08" style="font-family:'Liberation Serif',serif;font-size:58.77px;font-weight:normal;font-style:normal" fill="#262626">&#215;</text>
<text transform="translate(1213.68,70.77) scale(1.040,1)" style="font-family:'Liberation Serif',serif;font-size:49.04px;font-weight:bold;font-style:normal" fill="#262626">10</text>
<text x="1264.65" y="46.61" style="font-family:'Liberation Serif',serif;font-size:39.55px;font-weight:bold;font-style:normal" fill="#262626">-3</text>
<text x="1538.85" y="867.70" style="font-family:'Liberation Serif',serif;font-size:52.00px;font-weight:bold;font-style:normal" fill="#262626">t</text>
<text transform="translate(1557.38,844.56) scale(1.064,1)" style="font-family:'Noto Serif CJK SC',serif;font-size:32.38px;font-weight:normal;font-style:normal" fill="#262626">*</text>
<path d="M1021.2,425.8V459.8" stroke="#262626" stroke-width="2.2"/>
<text x="0.0" y="0.0" style="font-family:'Liberation Serif','Times New Roman',serif;font-size:66.0px;font-weight:bold;font-style:normal" text-anchor="start" fill="#262626" transform="translate(1062.3,458.3) rotate(-90)">v</text>
<text x="0.0" y="0.0" style="font-family:'Liberation Serif','Times New Roman',serif;font-size:52.0px;font-weight:bold;font-style:normal" text-anchor="start" fill="#262626" transform="translate(1089.3,431.7) rotate(-90)">m</text>
<text transform="translate(1362.88,182.51) scale(1.017,1)" style="font-family:'Liberation Serif',serif;font-size:56.88px;font-weight:normal;font-style:normal" fill="#000">b</text>
<text x="1391.35" y="182.91" style="font-family:'Liberation Serif',serif;font-size:58.95px;font-weight:normal;font-style:normal" fill="#000">)</text>
<text x="1429.99" y="174.44" style="font-family:'Liberation Serif',serif;font-size:54.89px;font-weight:normal;font-style:normal" fill="#000">v</text>
<text transform="translate(1451.67,191.96) scale(1.055,1)" style="font-family:'Liberation Serif',serif;font-size:33.45px;font-weight:normal;font-style:normal" fill="#000">Q</text>
<text transform="translate(1469.65,170.80) scale(1.396,1)" style="font-family:'Liberation Serif',serif;font-size:49.60px;font-weight:normal;font-style:normal" fill="#000">=</text>
<text transform="translate(1526.46,172.81) scale(1.090,1)" style="font-family:'Liberation Serif',serif;font-size:55.56px;font-weight:normal;font-style:normal" fill="#000">30 m/s</text>
<path d="M1455.2,574.2H1601.4" stroke="#000" stroke-width="5.3"/>
<path d="M1456.0,615.0H1469.7M1481.4,615.0H1495.1M1505.9,615.0H1519.6M1530.4,615.0H1545.0M1555.8,615.0H1568.7M1580.3,615.0H1597.3" stroke="#000" stroke-width="5.3" fill="none"/>
<path d="M1453.6,659.5H1464.8M1471.1,659.5H1474.3M1481.4,659.5H1492.6M1498.9,659.5H1502.1M1509.2,659.5H1520.4M1526.7,659.5H1529.9M1537.0,659.5H1548.2M1554.5,659.5H1557.7M1564.8,659.5H1576.0M1583.1,659.5H1586.3M1594.2,659.5H1606.3" stroke="#ed1c24" stroke-width="5.3" fill="none"/>
<text transform="translate(1626.18,586.69) scale(1.193,1)" style="font-family:'Liberation Serif',serif;font-size:31.97px;font-weight:normal;font-style:italic" fill="#000">&#952;</text>
<text transform="translate(1656.77,589.15) scale(1.291,1)" style="font-family:'Liberation Serif',serif;font-size:35.60px;font-weight:normal;font-style:normal" fill="#000">=</text>
<text transform="translate(1689.70,583.39) scale(1.016,1)" style="font-family:'Liberation Serif',serif;font-size:32.59px;font-weight:normal;font-style:normal" fill="#000">10</text>
<text transform="translate(1722.97,572.37) scale(0.986,1)" style="font-family:'Liberation Serif',serif;font-size:22.81px;font-weight:normal;font-style:normal" fill="#000">&#176;</text>
<text transform="translate(1621.02,629.93) scale(1.171,1)" style="font-family:'Liberation Serif',serif;font-size:32.82px;font-weight:normal;font-style:italic" fill="#000">&#952;</text>
<text transform="translate(1651.98,632.85) scale(1.291,1)" style="font-family:'Liberation Serif',serif;font-size:35.20px;font-weight:normal;font-style:normal" fill="#000">=</text>
<text transform="translate(1688.10,630.01) scale(1.122,1)" style="font-family:'Liberation Serif',serif;font-size:33.48px;font-weight:normal;font-style:normal" fill="#000">20</text>
<text transform="translate(1726.97,618.37) scale(0.986,1)" style="font-family:'Liberation Serif',serif;font-size:22.81px;font-weight:normal;font-style:normal" fill="#000">&#176;</text>
<text transform="translate(1620.88,672.09) scale(1.193,1)" style="font-family:'Liberation Serif',serif;font-size:31.97px;font-weight:normal;font-style:italic" fill="#000">&#952;</text>
<text transform="translate(1651.89,673.95) scale(1.420,1)" style="font-family:'Liberation Serif',serif;font-size:32.80px;font-weight:normal;font-style:normal" fill="#000">=</text>
<text transform="translate(1688.35,672.09) scale(1.145,1)" style="font-family:'Liberation Serif',serif;font-size:32.59px;font-weight:normal;font-style:normal" fill="#000">40</text>
<text transform="translate(1726.97,660.37) scale(0.986,1)" style="font-family:'Liberation Serif',serif;font-size:22.81px;font-weight:normal;font-style:normal" fill="#000">&#176;</text>
<text x="1460.97" y="963.93" style="font-family:'Liberation Serif',serif;font-size:49.92px;font-weight:normal;font-style:normal" fill="#000">(</text>
<text x="1476.87" y="964.15" style="font-family:'Liberation Serif',serif;font-size:51.77px;font-weight:bold;font-style:normal" fill="#000">b</text>
<text x="1508.02" y="964.18" style="font-family:'Liberation Serif',serif;font-size:49.92px;font-weight:normal;font-style:normal" fill="#000">)</text>
</g>
</svg>
</body></html>
